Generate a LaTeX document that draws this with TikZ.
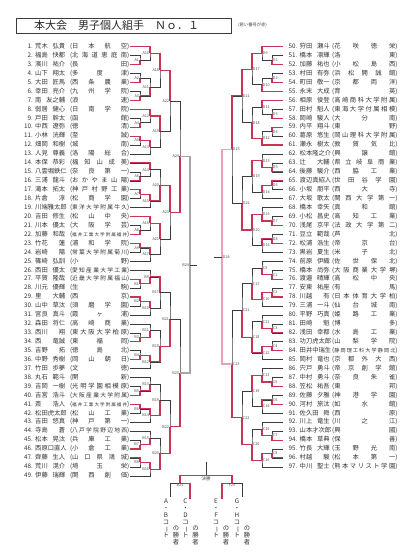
\documentclass[tikz,border=0pt]{standalone}
\usepackage{fontspec}
\setmainfont{Noto Sans CJK JP}
\usepackage{graphicx}
\usetikzlibrary{calc}
\definecolor{wred}{RGB}{200,52,84}
\definecolor{ink}{RGB}{60,60,60}
\tikzset{
  bk/.style={draw=ink, line width=0.5pt},
  win/.style={draw=wred, line width=1.1pt},
  midgray/.style={draw=black!35, line width=1.2pt},
  midpink/.style={draw=wred!45, line width=1.2pt},
  rowtxt/.style={font=\fontsize{6.3}{7}\selectfont, text=black!80, inner sep=0pt, text height=4.8pt, text depth=1.2pt},
  lbl/.style={font=\fontsize{3.8}{4}\selectfont, text=black!70, inner sep=0.7pt},
  vlabel/.style={font=\fontsize{6.3}{6.8}\selectfont, align=center, inner sep=0pt, text=black!80}
}
% school name spread over a fixed width
\newcommand{\spreadbox}[2]{\sbox0{#2}\ifdim\wd0>#1\resizebox{#1}{!}{#2}\else\makebox[#1][s]{#2}\fi}
% one bout: name, x of the vertical, upper entry, lower entry, winner, label anchor
\newcommand{\bout}[6]{%
  \path let \p1=(#3), \p2=(#4) in coordinate (#1) at ({#2pt},{0.5*(\y1+\y2)});
  \draw[bk] (#3) -| (#1) |- (#4);
  \draw[win] (#5) -| (#1);
  \node[lbl, anchor=#6] at (#1) {#1};
}

\begin{document}
\begin{tikzpicture}[x=1pt, y=1pt]
  \useasboundingbox (0,0) rectangle (404,-554);

  % title
  \node[draw=ink, line width=0.6pt, minimum width=215pt, minimum height=15pt, inner sep=0pt] (hdrbox) at (124.2,-25.8) {};
  \node[anchor=west, inner sep=0pt, font=\fontsize{11}{13}\selectfont, text=black!85] (hdr) at (34,-25.8) {本大会　男子個人組手　Ｎｏ．１};
  \node[anchor=west, inner sep=0pt, font=\fontsize{4.3}{5}\selectfont, text=black!75] (memo) at (238,-25.5) {(若い番号が赤)};

  % left column
  \foreach \i/\nm/\sc in {
    1/荒木 弘貴/日 本 航 空, 2/福島 快都/北 海 道 恵 庭 南, 3/濱川 祐介/長 田, 4/山下 翔太/多 度 津,
    5/大田 匠馬/西 条 農 業, 6/幸田 亮介/九 州 学 院, 7/南 友之輔/浪 速, 8/弱居 健心/日 南 学 院,
    9/戸田 幹太/函 館, 10/中西 遼弥/徳 清, 11/小林 洸輝/至 誠, 12/畑岡 和樹/城 南,
    13/人見 尊義/洛 陽 総 合, 14/本保 恭彩/福 知 山 成 美, 15/八雲堀鉄仁/奈 良 第 一, 16/三浦 龍斗/お か や ま 山 陽,
    17/滝本 拓太/神 戸 村 野 工 業, 18/片倉 淳/松 商 学 園, 19/川端雅太郎/東 洋 大 学 附 属 牛 久, 20/吉田 修生/松 山 中 央,
    21/川本 優太/大 阪 学 芸, 22/加藤 和哉/福 井 工 業 大 学 附 属 福 井, 23/竹花 蓮/浦 和 学 院, 24/岩崎 陽/常 葉 大 学 附 属 菊 川,
    25/篠崎 弘訓/小 野, 26/西田 優太/愛 知 産 業 大 学 工 業, 27/平賀 隆哉/近 畿 大 学 附 属 福 山, 28/川元 優輝/生 駒,
    29/里 大輔/西 京, 30/山中 草汰/須 磨 学 園, 31/宮良 真斗/霞 ヶ 浦, 32/森田 将仁/高 崎 商 業,
    33/西川 翔/東 大 阪 大 学 柏 原, 34/西 竜誠/東 福 岡, 35/吉野 拓/徳 島 北, 36/中野 秀樹/岡 山 朝 日,
    37/竹田 歩夢/文 徳, 38/丸石 範斗/開 新, 39/吉岡 一樹/光 明 学 園 相 模 原, 40/吉宮 浩斗/大 阪 産 業 大 学 附 属,
    41/斎 浩人/福 井 工 業 大 学 附 属 福 井, 42/松田虎太郎/松 山 工 業, 43/吉田 悠真/神 戸 第 一, 44/寺島 蒼/八 戸 学 院 野 辺 地 西,
    45/松本 晃汰/兵 庫 工 業, 46/西原口直人/小 倉 工 業, 47/齊藤 生人/山 口 県 鴻 城, 48/荒川 滉介/埼 玉 栄,
    49/伊藤 瑞輝/関 西 創 価}{
    \pgfmathsetmacro{\yy}{-(46.7+(\i-1)*8.94)}
    \coordinate (p\i) at (130,\yy);
    \node[rowtxt, anchor=east] (no\i) at (33,\yy) {\i.};
    \node[rowtxt, anchor=west] (nm\i) at (35,\yy) {\makebox[30pt][s]{\nm}};
    \node[rowtxt, anchor=east] (sc\i) at (129.5,\yy) {(\spreadbox{55pt}{\sc})};
  }

  % right column
  \foreach \i/\nm/\sc in {
    50/狩田 瀬斗/花 咲 徳 栄, 51/橋本 凛輝/洛 東, 52/加藤 祐也/小 松 島 西, 53/村田 有弥/浜 松 開 誠 館,
    54/町田 敬一/京 都 両 洋, 55/永末 大成/育 英, 56/相原 俊登/高 崎 商 科 大 学 附 属, 57/田村 魁人/東 海 大 学 付 属 相 模,
    58/岡崎 駿人/大 分 南, 59/内平 翔斗/東 野, 60/葛原 悠生/岡 山 理 科 大 学 附 属, 61/瀬永 樹太/敦 賀 気 比,
    62/松本隆之介/興 譲 館, 63/辻 大輔/県 立 岐 阜 商 業, 64/後藤 駿介/西 脇 工 業, 65/渡辺真紹人/世 田 谷 学 園,
    66/小坂 朋平/西 大 寺, 67/大坂 歌太/関 西 大 学 第 一, 68/橋本 幸矢/真 和 館, 69/小松 昌史/高 知 工 業,
    70/浅尾 京平/法 政 大 学 第 二, 71/豆立 範哉/芦 北, 72/松浦 浩生/帝 京 台, 73/黒岩 夏生/米 子 北,
    74/前原 伊織/佐 世 保 北, 75/橋本 尚弥/大 阪 商 業 大 学 堺, 76/渡邉 晴輝/高 松 中 央, 77/安東 祐座/有 馬,
    78/川越 有/日 本 体 育 大 学 柏, 79/三浦 一斗/仙 台 城 南, 80/平野 巧真/姫 路 工 業, 81/田崎 魁/博 多,
    82/浅田 幸都/水 島 工 業, 83/功刀虎太郎/山 梨 学 院, 84/田井中瑞生/静 岡 理 工 科 大 学 静 岡 北, 85/岡村 竜也/京 都 外 大 西,
    86/宍戸 勇斗/帝 京 創 学 館, 87/中村 勇斗/奈 良 朱 雀, 88/笠松 祐吾/東 邦, 89/佐藤 夕雅/神 港 学 園,
    90/河村 旅汰/如 水 館, 91/佐久田 舜/西 原, 92/川上 竜生/川 之 江, 93/山本才次郎/興 國,
    94/橋本 草典/保 善, 95/竹長 大輝/玉 野 光 南, 96/村越 駿/松 本 第 一, 97/中川 聖士/熊 本 マ リ ス ト 学 園}{
    \pgfmathsetmacro{\yy}{-(46.7+(\i-50)*8.94)}
    \coordinate (q\i) at (283,\yy);
    \node[rowtxt, anchor=east] (no\i) at (297.5,\yy) {\i.};
    \node[rowtxt, anchor=west] (nm\i) at (299.5,\yy) {\makebox[30pt][s]{\nm}};
    \node[rowtxt, anchor=west] (sc\i) at (332,\yy) {(\spreadbox{61pt}{\sc})};
  }

  % A block
  \bout{A1}{140}{p2}{p3}{p3}{east}
  \bout{A2}{140}{p4}{p5}{p5}{east}
  \bout{A3}{140}{p6}{p7}{p7}{east}
  \bout{A4}{140}{p9}{p10}{p10}{east}
  \bout{A5}{140}{p11}{p12}{p11}{east}
  \bout{A6}{140}{p15}{p16}{p16}{east}
  \bout{A7}{140}{p17}{p18}{p17}{east}
  \bout{A8}{140}{p21}{p22}{p22}{east}
  \bout{A9}{140}{p23}{p24}{p23}{east}
  \bout{A10}{150}{p1}{A1}{p1}{east}
  \bout{A11}{150}{A2}{A3}{A3}{east}
  \bout{A12}{150}{p8}{A4}{p8}{east}
  \bout{A13}{150}{A5}{p13}{A5}{east}
  \bout{A14}{150}{p14}{A6}{p14}{east}
  \bout{A15}{150}{A7}{p19}{A7}{east}
  \bout{A16}{150}{p20}{A8}{p20}{east}
  \bout{A17}{150}{A9}{p25}{A9}{east}
  \bout{A18}{160}{A10}{A11}{A10}{east}
  \bout{A19}{160}{A12}{A13}{A12}{east}
  \bout{A20}{160}{A14}{A15}{A15}{east}
  \bout{A21}{160}{A16}{A17}{A16}{east}
  \bout{A22}{170}{A18}{A19}{A18}{east}
  \bout{A23}{170}{A20}{A21}{A20}{east}
  \bout{A24}{180}{A22}{A23}{A23}{east}

  % B block
  \bout{B1}{140}{p27}{p28}{p27}{east}
  \bout{B2}{140}{p29}{p30}{p29}{east}
  \bout{B3}{140}{p33}{p34}{p34}{east}
  \bout{B4}{140}{p35}{p36}{p36}{east}
  \bout{B5}{140}{p39}{p40}{p40}{east}
  \bout{B6}{140}{p41}{p42}{p41}{east}
  \bout{B7}{140}{p45}{p46}{p46}{east}
  \bout{B8}{140}{p47}{p48}{p47}{east}
  \bout{B9}{150}{p26}{B1}{B1}{east}
  \bout{B10}{150}{B2}{p31}{B2}{east}
  \bout{B11}{150}{p32}{B3}{B3}{east}
  \bout{B12}{150}{B4}{p37}{B4}{east}
  \bout{B13}{150}{p38}{B5}{B5}{east}
  \bout{B14}{150}{B6}{p43}{B6}{east}
  \bout{B15}{150}{p44}{B7}{B7}{east}
  \bout{B16}{150}{B8}{p49}{B8}{east}
  \bout{B17}{160}{B9}{B10}{B9}{east}
  \bout{B18}{160}{B11}{B12}{B12}{east}
  \bout{B19}{160}{B13}{B14}{B14}{east}
  \bout{B20}{160}{B15}{B16}{B16}{east}
  \bout{B21}{170}{B17}{B18}{B18}{east}
  \bout{B22}{170}{B19}{B20}{B20}{east}
  \bout{B23}{180}{B21}{B22}{B22}{east}

  % A/B court final
  \path let \p1=(A24), \p2=(B23) in coordinate (B24) at (190pt,{0.5*(\y1+\y2)});
  \draw[midgray] (A24) -| (B24) |- (B23);
  \node[lbl, anchor=east] at (B24) {B24};
  \coordinate (B24out) at ($(B24)+(7,0)$);
  \draw[bk] (B24) -- (B24out);

  % D block
  \bout{D1}{272}{q51}{q52}{q52}{west}
  \bout{D2}{272}{q53}{q54}{q54}{west}
  \bout{D3}{272}{q57}{q58}{q58}{west}
  \bout{D4}{272}{q59}{q60}{q59}{west}
  \bout{D5}{272}{q63}{q64}{q64}{west}
  \bout{D6}{272}{q65}{q66}{q65}{west}
  \bout{D7}{272}{q69}{q70}{q70}{west}
  \bout{D8}{272}{q71}{q72}{q72}{west}
  \bout{D9}{262}{q50}{D1}{q50}{west}
  \bout{D10}{262}{D2}{q55}{q55}{west}
  \bout{D11}{262}{q56}{D3}{q56}{west}
  \bout{D12}{262}{D4}{q61}{q61}{west}
  \bout{D13}{262}{q62}{D5}{D5}{west}
  \bout{D14}{262}{D6}{q67}{D6}{west}
  \bout{D15}{262}{q68}{D7}{D7}{west}
  \bout{D16}{262}{D8}{q73}{D8}{west}
  \bout{D17}{252}{D9}{D10}{D9}{west}
  \bout{D18}{252}{D11}{D12}{D12}{west}
  \bout{D19}{252}{D13}{D14}{D13}{west}
  \bout{D20}{252}{D15}{D16}{D15}{west}
  \bout{D21}{242}{D17}{D18}{D17}{west}
  \bout{D22}{242}{D19}{D20}{D20}{west}
  \bout{D23}{232}{D21}{D22}{D21}{west}

  % C block
  \bout{C1}{272}{q75}{q76}{q76}{west}
  \bout{C2}{272}{q77}{q78}{q78}{west}
  \bout{C3}{272}{q81}{q82}{q82}{west}
  \bout{C4}{272}{q83}{q84}{q84}{west}
  \bout{C5}{272}{q87}{q88}{q88}{west}
  \bout{C6}{272}{q89}{q90}{q90}{west}
  \bout{C7}{272}{q93}{q94}{q94}{west}
  \bout{C8}{272}{q95}{q96}{q96}{west}
  \bout{C9}{262}{q74}{C1}{C1}{west}
  \bout{C10}{262}{C2}{q79}{C2}{west}
  \bout{C11}{262}{q80}{C3}{C3}{west}
  \bout{C12}{262}{C4}{q85}{C4}{west}
  \bout{C13}{262}{q86}{C5}{C5}{west}
  \bout{C14}{262}{C6}{q91}{C6}{west}
  \bout{C15}{262}{q92}{C7}{C7}{west}
  \bout{C16}{262}{C8}{q97}{C8}{west}
  \bout{C17}{252}{C9}{C10}{C10}{west}
  \bout{C18}{252}{C11}{C12}{C12}{west}
  \bout{C19}{252}{C13}{C14}{C13}{west}
  \bout{C20}{252}{C15}{C16}{C16}{west}
  \bout{C21}{242}{C17}{C18}{C18}{west}
  \bout{C22}{242}{C19}{C20}{C20}{west}
  \bout{C23}{232}{C21}{C22}{C22}{west}

  % C/D court final
  \path let \p1=(D23), \p2=(C23) in coordinate (D24) at (222pt,{0.5*(\y1+\y2)});
  \draw[midpink] (D23) -| (D24) |- (C23);
  \node[lbl, anchor=west] at (D24) {D24};
  \coordinate (D24out) at ($(D24)+(-8,0)$);
  \draw[bk] (D24) -- (D24out);

  % final
  \coordinate (fintop) at (206,-461.7);
  \coordinate (final) at (206,-475.7);
  \coordinate (B25) at (180,-483.3);
  \coordinate (F25) at (232,-483.3);
  \coordinate (legab) at (170,-496.5);
  \coordinate (legcd) at (190,-498.5);
  \coordinate (legef) at (222,-498.5);
  \coordinate (leggh) at (242,-496.5);
  \draw[bk] (fintop) -- (final);
  \draw[bk] (B25) |- (final) -| (F25);
  \draw[bk] (legab) |- (B25) -| (legcd);
  \draw[bk] (legef) |- (F25) -| (leggh);
  \draw[win] (legcd) |- (B25) |- (final);
  \draw[win] (legef) |- (F25) |- (final);
  \node[lbl, below] at (B25) {B25};
  \node[lbl, below] at (F25) {F25};
  \node[lbl, below, font=\fontsize{4.5}{5}\selectfont] (kessho) at (final) {決勝};

  % courts
  \node[vlabel, anchor=north] (ab) at (166,-499) {A\\・\\B\\コ\\\rotatebox[origin=c]{-90}{ー}\\ト};
  \node[vlabel, anchor=north] (abw) at (176,-526) {の\\勝\\者};
  \node[vlabel, anchor=north] (cd) at (185.5,-499) {C\\・\\D\\コ\\\rotatebox[origin=c]{-90}{ー}\\ト};
  \node[vlabel, anchor=north] (cdw) at (195.5,-526) {の\\勝\\者};
  \node[vlabel, anchor=north] (ef) at (216,-499) {E\\・\\F\\コ\\\rotatebox[origin=c]{-90}{ー}\\ト};
  \node[vlabel, anchor=north] (efw) at (226,-526) {の\\勝\\者};
  \node[vlabel, anchor=north] (gh) at (237,-499) {G\\・\\H\\コ\\\rotatebox[origin=c]{-90}{ー}\\ト};
  \node[vlabel, anchor=north] (ghw) at (247,-526) {の\\勝\\者};
\end{tikzpicture}
\end{document}
